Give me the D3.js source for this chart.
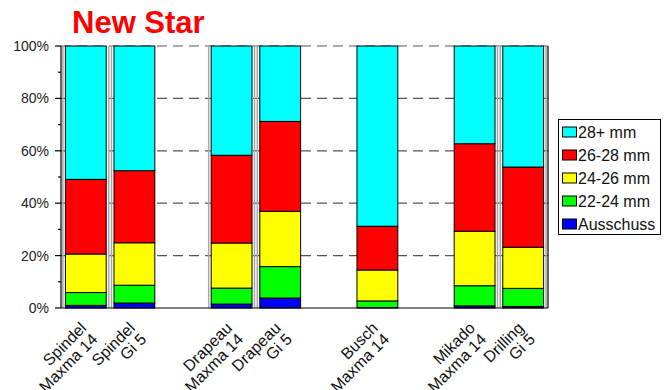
<!DOCTYPE html>
<html>
<head>
<meta charset="utf-8">
<script src="https://cdn.jsdelivr.net/npm/d3@7"></script>
<style>
  html, body { margin: 0; padding: 0; background: #fff; }
  svg { display: block; font-family: "Liberation Sans", Arial, sans-serif; }
</style>
</head>
<body>
<svg id="chart" width="671" height="390"></svg>
<script>
// Slots along the x axis; empty strings are spacer slots between variety groups.
const categories = [
  "Spindel|Maxma 14", "Spindel|Gi 5", "",
  "Drapeau|Maxma 14", "Drapeau|Gi 5", "",
  "Busch|Maxma 14", "",
  "Mikado|Maxma 14", "Drilling|Gi 5"
];

// Size classes, bottom to top of each stacked bar.
const seriesNames = ["Ausschuss", "22-24 mm", "24-26 mm", "26-28 mm", "28+ mm"];
const seriesColors = ["#0000ff", "#00ff00", "#ffff00", "#ff0000", "#00ffff"];

// Share (%) of each size class per slot; null for spacer slots.
const ausschuss = [1.0, 1.9, null, 1.5, 3.8, null, 0.2, null, 0.8, 0.6];
const mm22_24   = [4.9, 6.8, null, 6.1, 12.0, null, 2.5, null, 7.7, 6.9];
const mm24_26   = [14.7, 16.2, null, 17.2, 21.1, null, 11.8, null, 20.8, 15.7];
const mm26_28   = [28.5, 27.5, null, 33.5, 34.3, null, 16.7, null, 33.4, 30.6];
const mm28plus  = [50.9, 47.6, null, 41.7, 28.8, null, 68.8, null, 37.3, 46.2];

const yTicks = [0, 20, 40, 60, 80, 100];
const yMinorTicks = [10, 30, 50, 70, 90];

// Which sides of a bar carry a thin grey rule
const ruleSides = ["both", "left", null, "both", "left", null, null, null, "right", "both"];

const seriesValues = [ausschuss, mm22_24, mm24_26, mm26_28, mm28plus];

const svg = d3.select("#chart");

const plot = { left: 61, right: 548, top: 46, bottom: 308 };

const x = d3.scaleBand()
  .domain(d3.range(categories.length))
  .range([plot.left, plot.right - 1])
  .paddingInner(0.16)
  .paddingOuter(0.08);

const y = d3.scaleLinear().domain([0, 100]).range([plot.bottom, plot.top]);

// Build rows for the stack layout (spacer slots are skipped).
const rows = categories.map((c, i) => {
  const r = { index: i, label: c };
  seriesNames.forEach((s, k) => { r[s] = seriesValues[k][i] || 0; });
  return r;
}).filter(r => r.label !== "");

const stacked = d3.stack().keys(seriesNames)(rows);

// Title
svg.append("text")
  .attr("x", 72).attr("y", 33)
  .attr("fill", "#ff0000")
  .attr("font-size", 31).attr("font-weight", "bold")
  .text("New Star");

// Dashed gridlines
svg.append("g").selectAll("line")
  .data(yTicks.filter(t => t > 0))
  .join("line")
  .attr("x1", plot.left).attr("x2", plot.right)
  .attr("y1", d => y(d)).attr("y2", d => y(d))
  .attr("stroke", "#555").attr("stroke-width", 1.2)
  .attr("stroke-dasharray", "10,6");

// Thin grey side rules next to the paired bars
const sideRules = [];
rows.forEach(r => {
  const s = ruleSides[r.index];
  if (s === "both" || s === "left") sideRules.push(x(r.index) - 2);
  if (s === "both" || s === "right") sideRules.push(x(r.index) + x.bandwidth() + 3);
});
svg.append("g").selectAll("line")
  .data(sideRules)
  .join("line")
  .attr("x1", d => d).attr("x2", d => d)
  .attr("y1", plot.top).attr("y2", plot.bottom)
  .attr("stroke", "#a8a8a8").attr("stroke-width", 1.5);

// Stacked bars
svg.append("g").selectAll("g")
  .data(stacked)
  .join("g")
  .attr("fill", (d, k) => seriesColors[k])
  .selectAll("rect")
  .data(d => d)
  .join("rect")
  .attr("x", d => x(d.data.index) + 0.5)
  .attr("width", x.bandwidth())
  .attr("y", d => y(d[1]))
  .attr("height", d => y(d[0]) - y(d[1]))
  .attr("stroke", "#000").attr("stroke-width", 1);

// Axes frame: left axis, bottom axis, right border
const frame = svg.append("g").attr("stroke", "#000").attr("stroke-width", 1.2);
frame.append("line").attr("x1", plot.left).attr("x2", plot.left).attr("y1", plot.top).attr("y2", plot.bottom);
frame.append("line").attr("x1", plot.left).attr("x2", plot.right).attr("y1", plot.bottom).attr("y2", plot.bottom);
frame.append("line").attr("x1", plot.right).attr("x2", plot.right).attr("y1", plot.top).attr("y2", plot.bottom);

// Major and minor ticks on the value axis
frame.selectAll(".major").data(yTicks).join("line")
  .attr("x1", plot.left - 6).attr("x2", plot.left)
  .attr("y1", d => y(d)).attr("y2", d => y(d));
frame.selectAll(".minor").data(yMinorTicks).join("line")
  .attr("x1", plot.left - 3).attr("x2", plot.left)
  .attr("y1", d => y(d)).attr("y2", d => y(d));

// Value axis labels
svg.append("g").selectAll("text")
  .data(yTicks)
  .join("text")
  .attr("x", 49).attr("y", d => y(d))
  .attr("dy", "0.36em")
  .attr("text-anchor", "end")
  .attr("font-size", 14).attr("fill", "#222")
  .text(d => d + "%");

// Category labels, two lines, rotated 45 degrees
const catLabels = svg.append("g").selectAll("g")
  .data(rows)
  .join("g")
  .attr("transform", d => `translate(${x(d.index) + x.bandwidth() / 2 + 2},${plot.bottom + 21}) rotate(-45)`);
catLabels.each(function(d) {
  const lines = d.label.split("|");
  const t = d3.select(this).append("text")
    .attr("text-anchor", "end")
    .attr("font-size", 16).attr("fill", "#111");
  lines.forEach((ln, i) => {
    t.append("tspan").attr("x", 0).attr("y", i * 16).text(ln);
  });
});

// Legend
const legend = svg.append("g");
legend.append("rect")
  .attr("x", 558.5).attr("y", 119.5).attr("width", 102).attr("height", 115)
  .attr("fill", "#fff").attr("stroke", "#000").attr("stroke-width", 1);
const legendOrder = d3.range(seriesNames.length).reverse();
const li = legend.selectAll(".item")
  .data(legendOrder)
  .join("g")
  .attr("transform", (d, j) => `translate(0,${132 + j * 23})`);
li.append("rect")
  .attr("x", 562.5).attr("y", -5).attr("width", 14).attr("height", 10)
  .attr("fill", d => seriesColors[d])
  .attr("stroke", "#000").attr("stroke-width", 1);
li.append("text")
  .attr("x", 578).attr("y", 0).attr("dy", "0.36em")
  .attr("font-size", 16).attr("fill", "#111")
  .text(d => seriesNames[d]);
</script>
</body>
</html>
